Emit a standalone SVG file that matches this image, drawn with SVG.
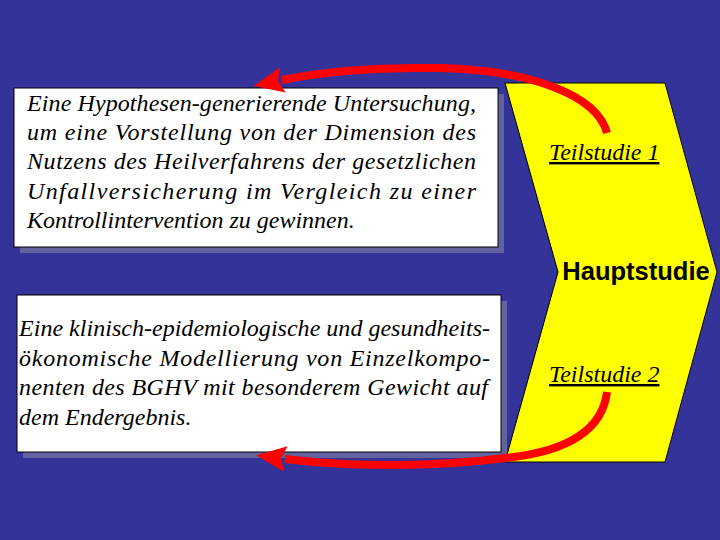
<svg xmlns="http://www.w3.org/2000/svg" width="720" height="540" viewBox="0 0 720 540">
<defs>
<style>
.bg{fill:#333399}
.shadow{fill:#62629e}
.box{fill:#ffffff;stroke:#000000;stroke-width:1}
.body{font-family:"Liberation Serif","Times New Roman",serif;font-style:italic;font-size:24px;fill:#000000}
.teil{font-family:"Liberation Serif","Times New Roman",serif;font-style:italic;font-size:24px;fill:#000000;text-decoration:underline}
.haupt{font-family:"Liberation Sans",Arial,sans-serif;font-weight:bold;font-size:25.5px;fill:#000000}
.arrow{fill:none;stroke:#ff0000;stroke-width:8}
</style>
<marker id="head" markerUnits="userSpaceOnUse" markerWidth="30" markerHeight="26" viewBox="0 0 30 26" refX="1" refY="13" orient="auto">
<path d="M0,0 L30,13 L0,26 L5,13 z" fill="#ff0000"/>
</marker>
</defs>
<rect class="bg" x="0" y="0" width="720" height="540"/>
<g id="hauptstudie">
<polygon points="505,83 665,83 717,272 665,462 505,462 558,272" fill="#ffff00" stroke="#000000" stroke-width="1"/>
<text class="haupt" x="636" y="280" text-anchor="middle">Hauptstudie</text>
</g>
<g id="teilstudie1">
<text class="teil" x="549" y="160">Teilstudie 1</text>
</g>
<g id="teilstudie2">
<text class="teil" x="549" y="382">Teilstudie 2</text>
</g>
<g id="box1">
<rect class="shadow" x="20" y="94" width="484" height="159"/>
<rect class="box" x="14" y="88" width="484" height="159"/>
<text class="body">
<tspan x="27" y="111" textLength="449" lengthAdjust="spacing">Eine Hypothesen-generierende Untersuchung,</tspan>
<tspan x="27" y="140" textLength="449" lengthAdjust="spacing">um eine Vorstellung von der Dimension des</tspan>
<tspan x="27" y="169" textLength="449" lengthAdjust="spacing">Nutzens des Heilverfahrens der gesetzlichen</tspan>
<tspan x="27" y="199" textLength="449" lengthAdjust="spacing">Unfallversicherung im Vergleich zu einer</tspan>
<tspan x="27" y="228">Kontrollintervention zu gewinnen.</tspan>
</text>
</g>
<g id="box2">
<rect class="shadow" x="23" y="301" width="484" height="157"/>
<rect class="box" x="17" y="295" width="484" height="157"/>
<text class="body">
<tspan x="19" y="336" textLength="471" lengthAdjust="spacing">Eine klinisch-epidemiologische und gesundheits-</tspan>
<tspan x="19" y="366" textLength="471" lengthAdjust="spacing">ökonomische Modellierung von Einzelkompo-</tspan>
<tspan x="19" y="395" textLength="469" lengthAdjust="spacing">nenten des BGHV mit besonderem Gewicht auf</tspan>
<tspan x="19" y="425">dem Endergebnis.</tspan>
</text>
</g>
<g id="connectors">
<path class="arrow" d="M607,133 C597,95 530,70 440,68 C370,67 320,72 282,80" marker-end="url(#head)"/>
<path class="arrow" d="M607,392 C602,432 565,452 505,458 C430,468 340,466 285,459" marker-end="url(#head)"/>
</g>
</svg>
